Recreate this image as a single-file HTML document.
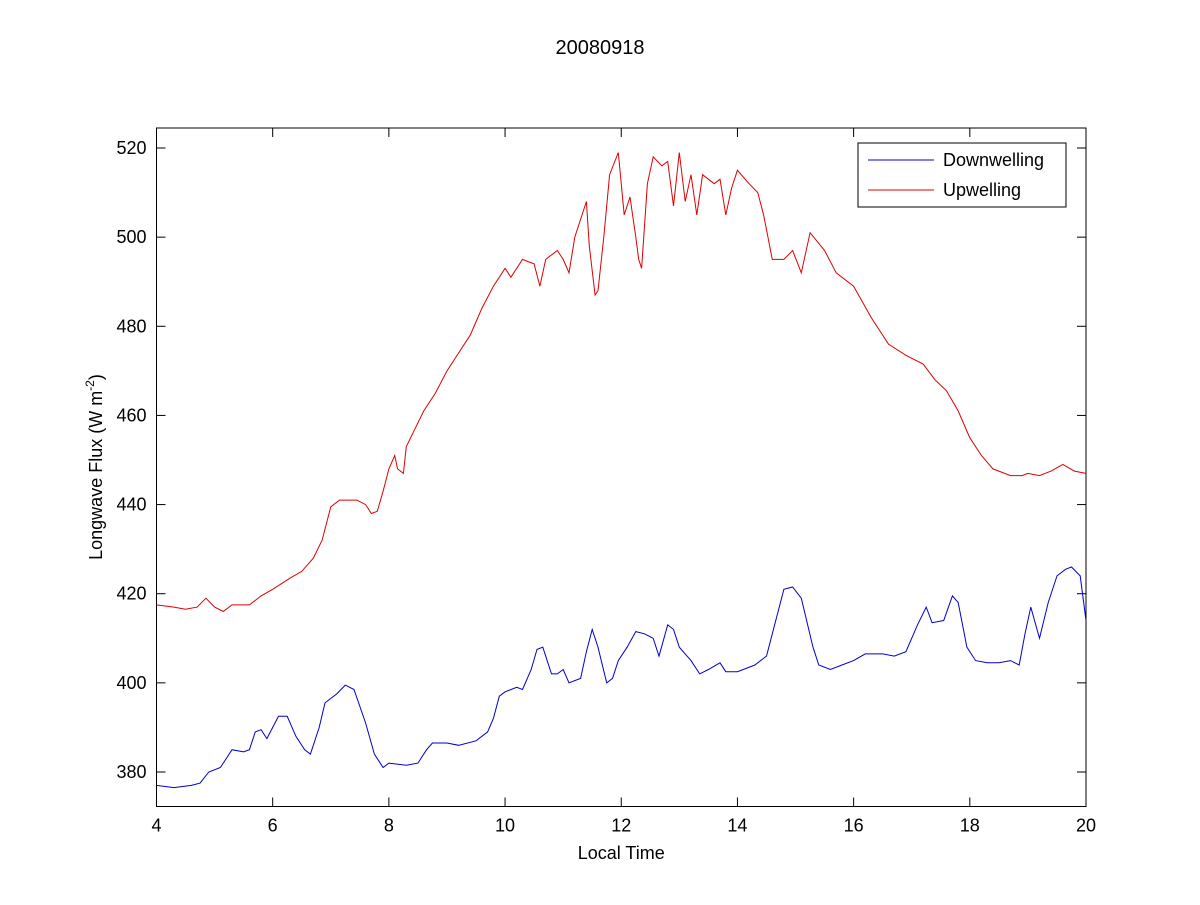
<!DOCTYPE html>
<html><head><meta charset="utf-8"><style>
body{margin:0;background:#fff;}
svg text{font-family:"Liberation Sans",Arial,sans-serif;fill:#000;}
</style></head><body>
<svg id="chart" width="1200" height="900">
<rect width="1200" height="900" fill="#fff"/>
<g id="plot"></g>
</svg>
<script>
const tDown=[4.0,4.3,4.6,4.75,4.9,5.1,5.2,5.3,5.5,5.6,5.7,5.8,5.9,6.0,6.1,6.25,6.4,6.55,6.65,6.8,6.9,7.1,7.25,7.4,7.6,7.75,7.9,8.0,8.3,8.5,8.65,8.75,9.0,9.2,9.5,9.7,9.8,9.9,10.0,10.2,10.3,10.45,10.55,10.65,10.8,10.9,11.0,11.1,11.3,11.4,11.5,11.6,11.75,11.85,11.95,12.1,12.25,12.4,12.55,12.65,12.8,12.9,13.0,13.2,13.35,13.5,13.7,13.8,14.0,14.3,14.5,14.6,14.8,14.95,15.1,15.3,15.4,15.6,15.8,16.0,16.2,16.5,16.7,16.9,17.1,17.25,17.35,17.55,17.7,17.8,17.95,18.1,18.3,18.5,18.7,18.85,18.95,19.05,19.2,19.35,19.5,19.65,19.75,19.9,20.0];
const vDown=[377,376.5,377,377.5,380,381,383,385,384.5,385,389,389.5,387.5,390,392.5,392.5,388,385,384,390,395.5,397.5,399.5,398.5,391,384,381,382,381.5,382,385,386.5,386.5,386,387,389,392,397,398,399,398.5,403,407.5,408,402,402,403,400,401,407,412,408,400,401,405,408,411.5,411,410,406,413,412,408,405,402,403,404.5,402.5,402.5,404,406,411,421,421.5,419,408,404,403,404,405,406.5,406.5,406,407,413,417,413.5,414,419.5,418,408,405,404.5,404.5,405,404,411,417,410,418,424,425.5,426,424,414];
const tUp=[4.0,4.3,4.5,4.7,4.85,5.0,5.15,5.3,5.6,5.8,6.0,6.3,6.5,6.7,6.85,7.0,7.15,7.3,7.45,7.6,7.7,7.8,7.9,8.0,8.1,8.15,8.25,8.3,8.45,8.6,8.8,9.0,9.2,9.4,9.6,9.8,10.0,10.1,10.3,10.5,10.6,10.7,10.9,11.0,11.1,11.2,11.4,11.45,11.55,11.6,11.7,11.8,11.95,12.05,12.15,12.25,12.3,12.35,12.45,12.55,12.7,12.8,12.9,13.0,13.1,13.2,13.3,13.4,13.6,13.7,13.8,13.9,14.0,14.2,14.35,14.45,14.6,14.8,14.95,15.1,15.25,15.5,15.7,16.0,16.3,16.6,16.9,17.2,17.4,17.6,17.8,18.0,18.2,18.4,18.7,18.9,19.0,19.2,19.4,19.6,19.8,20.0];
const vUp=[417.5,417,416.5,417,419,417,416,417.5,417.5,419.5,421,423.5,425,428,432,439.5,441,441,441,440,438,438.5,443,448,451,448,447,453,457,461,465,470,474,478,484,489,493,491,495,494,489,495,497,495,492,500,508,498,487,488,500,514,519,505,509,500,495,493,512,518,516,517,507,519,508,514,505,514,512,513,505,511,515,512,510,505,495,495,497,492,501,497,492,489,482,476,473.5,471.5,468,465.5,461,455,451,448,446.5,446.5,447,446.5,447.5,449,447.5,447];
const xTicks=[4,6,8,10,12,14,16,18,20];
const yTicks=[380,400,420,440,460,480,500,520];

const L=156.5,R=1086,T=128,B=806.5;
const X=t=>L+(t-4)/16*(R-L);
const Y=v=>772-(v-380)*(772-148)/140;
const NS='http://www.w3.org/2000/svg';
const g=document.getElementById('plot');
function mk(tag,attrs){const e=document.createElementNS(NS,tag);for(const k in attrs)e.setAttribute(k,attrs[k]);g.appendChild(e);return e;}

const frame=mk('rect',{x:L,y:T,width:R-L,height:B-T,fill:'none',stroke:'#000','stroke-width':1});



xTicks.forEach(t=>{
  const x=X(t);
  const a=mk('line',{x1:x,x2:x,y1:B,y2:B-9,stroke:'#000'});
  
  
  const b=mk('line',{x1:x,x2:x,y1:T,y2:T+9,stroke:'#000'});
  
  
  const tx=mk('text',{x:x,y:B+25,'font-size':18,'text-anchor':'middle'});
  tx.textContent=t;
  
  
});
yTicks.forEach(v=>{
  const y=Y(v);
  const a=mk('line',{x1:L,x2:L+9,y1:y,y2:y,stroke:'#000'});
  
  
  const b=mk('line',{x1:R,x2:R-9,y1:y,y2:y,stroke:'#000'});
  
  
  const tx=mk('text',{x:L-10,y:y+6,'font-size':18,'text-anchor':'end'});
  tx.textContent=v;
  
  
});

function series(ts,vs,color,name){
  const p=mk('polyline',{points:ts.map((t,i)=>X(t).toFixed(1)+','+Y(vs[i]).toFixed(1)).join(' '),fill:'none',stroke:color,'stroke-width':1});
  
  
}
series(tDown,vDown,'#0000cc','downwelling-line');
series(tUp,vUp,'#dd0000','upwelling-line');

const title=mk('text',{x:600,y:54,'font-size':20,'text-anchor':'middle'});
title.textContent='20080918';


const xl=mk('text',{x:(L+R)/2,y:859,'font-size':18,'text-anchor':'middle'});
xl.textContent='Local Time';


const yl=mk('text',{x:0,y:0,'font-size':18,'text-anchor':'middle',transform:'translate(102,467) rotate(-90)'});
yl.innerHTML='Longwave Flux (W m<tspan font-size="12" dy="-8">-2</tspan><tspan dy="8">)</tspan>';



const lg=mk('rect',{x:858,y:143,width:208,height:64,fill:'#fff',stroke:'#000'});


[['Downwelling','#0000cc',160],['Upwelling','#dd0000',190]].forEach(([n,c,y])=>{
  const l=mk('line',{x1:868,x2:934,y1:y,y2:y,stroke:c});
  
  
  const t=mk('text',{x:943,y:y+6,'font-size':18});
  t.textContent=n;
  
  
});
</script>
</body></html>
